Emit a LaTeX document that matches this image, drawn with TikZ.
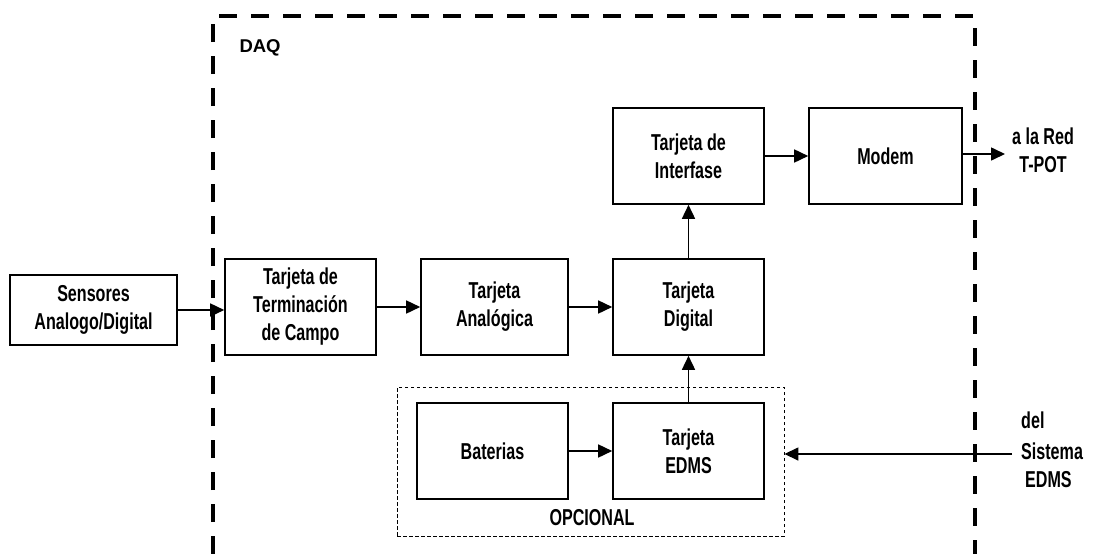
\documentclass[tikz,border=0pt]{standalone}
\usepackage{fontspec}
\newfontfamily\condfont[FakeStretch=0.7]{Liberation Sans}
\newfontfamily\daqfont{Liberation Sans}
\usetikzlibrary{shapes,arrows.meta}

\tikzset{
  bloque/.style={draw,line width=1.6pt,minimum width=151pt,minimum height=96pt,
    inner sep=0pt,align=center,font=\condfont\bfseries\fontsize{23}{28}\selectfont},
  texto/.style={draw=none,inner sep=0pt,font=\condfont\bfseries\fontsize{23}{28}\selectfont},
  flecha/.style={line width=1.6pt,-{Triangle[length=14pt,width=13pt]}}
}

\begin{document}
\begin{tikzpicture}[x=1pt,y=-1pt]
  \useasboundingbox (0,0) rectangle (1095,554);
  %\draw[step=50,gray,very thin] (0,0) grid (1095,554);

  % caja DAQ
  \draw[line width=4pt,dash pattern=on 18pt off 14pt] (213,554) -- (213,16) -- (975,16) -- (975,554);
  \node[draw=none,anchor=west,font=\daqfont\bfseries\fontsize{18.5}{20}\selectfont] (daq) at (236,48) {DAQ};

  % caja opcional
  \node[draw,line width=0.9pt,dash pattern=on 3.5pt off 2.5pt,minimum width=387pt,minimum height=149pt] (opc) at (590.5,461.5) {};
  \node[texto] (opclbl) at (592,518) {OPCIONAL};

  \node[bloque,minimum width=167pt,minimum height=70pt] (sens) at (93.5,310) {Sensores\\Analogo/Digital};
  \node[bloque] (term) at (300.5,307) {Tarjeta de\\Terminación\\de Campo};
  \node[bloque,minimum width=147pt] (anal) at (494.5,307) {Tarjeta\\Analógica};
  \node[bloque] (digi) at (688.5,307) {Tarjeta\\Digital};
  \node[bloque] (intf) at (688.5,156) {Tarjeta de\\Interfase};
  \node[bloque,minimum width=153pt] (modem) at (885.5,156) {Modem};
  \node[bloque] (bat) at (492.5,451) {Baterias};
  \node[bloque] (edms) at (688.5,451) {Tarjeta\\EDMS};

  \node[texto,align=center] (red) at (1043,150) {a la Red\\T-POT};
  \node[texto,align=left,anchor=west] (sis) at (1021,450) {del\\[3pt]Sistema\\\hspace*{4pt}EDMS};

  \coordinate (salida) at (1005,154);
  \coordinate (entrada) at (1012,454);

  \draw[flecha] (sens.east) -- (sens.east -| term.west);
  \draw[flecha] (term.east) -- (anal.west);
  \draw[flecha] (anal.east) -- (digi.west);
  \draw[flecha] (digi.north) -- (intf.south);
  \draw[flecha] (intf.east) -- (modem.west);
  \draw[flecha] (modem.east |- salida) -- (salida);
  \draw[flecha] (bat.east) -- (edms.west);
  \draw[flecha] (edms.north) -- (digi.south);
  \draw[flecha] (entrada) -- (entrada -| opc.east);
\end{tikzpicture}
\end{document}
